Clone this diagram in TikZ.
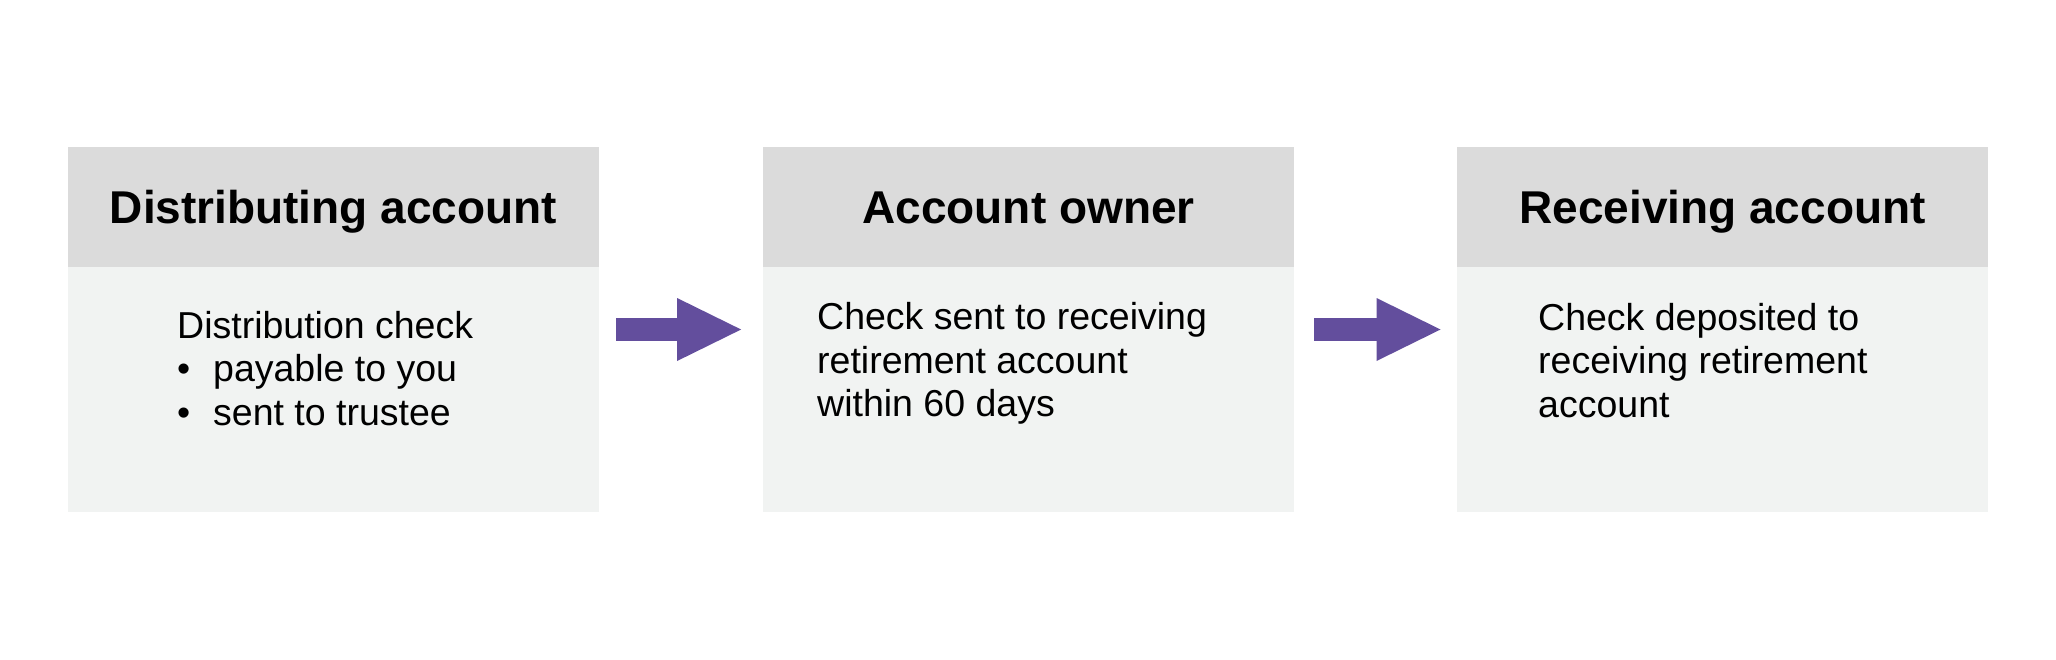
\documentclass[tikz,border=0pt]{standalone}
\usepackage{fontspec}
\setmainfont{Liberation Sans}
\usepackage{tikz}
\usetikzlibrary{arrows.meta}
\definecolor{headgray}{HTML}{DBDBDB}
\definecolor{bodygray}{HTML}{F1F3F2}
\definecolor{flowpurple}{HTML}{634E9D}
\tikzset{
   headbox/.style={rectangle, fill=headgray, minimum width=531pt, minimum height=120pt, inner sep=0pt,
                   text height=33pt, text depth=0pt, font=\fontsize{46}{50}\selectfont\bfseries},
   bodybox/.style={rectangle, fill=bodygray, minimum width=531pt, minimum height=244.5pt, inner sep=0pt},
   bodytext/.style={anchor=north west, align=left, inner sep=0pt, font=\fontsize{37.5}{43.3}\selectfont},
   flowarrow/.style={draw=flowpurple, line width=23pt,
           -{Triangle[length=64pt, width=63pt, line width=0pt]},
   }
}

\begin{document}
\begin{tikzpicture}[x=1pt, y=-1pt]
\useasboundingbox (0,0) rectangle (2056,659);
\foreach \N/\X/\T in {d/333.5/Distributing account,o/1028.5/Account owner,r/1722.5/Receiving account}{
	\node[headbox] (\N head) at (\X,207) {\T};
	\node[bodybox] (\N body) at (\X,389.25) {};
}
\node[bodytext] (dtext) at (177,311.2) {Distribution check\\
   \makebox[36pt][l]{\textbullet}payable to you\\
   \makebox[36pt][l]{\textbullet}sent to trustee};
\node[bodytext] (otext) at (817,302.6) {Check sent to receiving\\retirement account\\within 60 days};
\node[bodytext] (rtext) at (1538,303.2) {Check deposited to\\receiving retirement\\account};

\coordinate (arrowrow) at (0,329.5);
\draw[flowarrow, shorten <=17pt, shorten >=21.7pt] (dbody.east |- arrowrow) -- (obody.west |- arrowrow);
\draw[flowarrow, shorten <=20pt, shorten >=16.3pt] (obody.east |- arrowrow) -- (rbody.west |- arrowrow);
\end{tikzpicture}
\end{document}
